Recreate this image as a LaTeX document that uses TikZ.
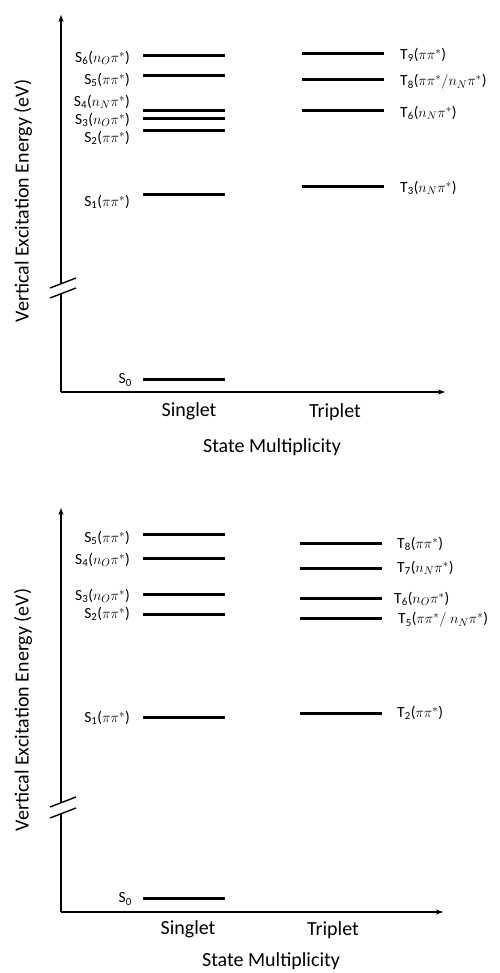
\documentclass[tikz,border=0pt]{standalone}
\usepackage{fontspec}
\setmainfont{Carlito}
\usetikzlibrary{arrows.meta}
\begin{document}
\begin{tikzpicture}[
  x=1pt, y=-1pt,
  axis/.style={line width=1.6pt},
  lvl/.style={line width=3pt},
  cut/.style={line width=1.4pt},
  slab/.style={anchor=east, inner sep=0pt, font=\fontsize{15.5}{18}\selectfont},
  tlab/.style={anchor=west, inner sep=0pt, font=\fontsize{15.5}{18}\selectfont},
  axlab/.style={inner sep=0pt, font=\fontsize{20}{24}\selectfont},
  >={Stealth[length=7pt, width=5pt]}
]
  \useasboundingbox (0,0) rectangle (499,973);

  % upper diagram
  \coordinate (o1) at (61,392);
  \coordinate (b1) at (61,293);
  \coordinate (c1) at (61,283);
  \coordinate (y1) at (61,15);
  \coordinate (x1) at (445,392);
  \draw[axis] (b1) -- (o1);
  \draw[axis,->] (o1) -- (x1);
  \draw[axis,->] (c1) -- (y1);
  \draw[cut] (50,288) -- (76,278);
  \draw[cut] (50,298) -- (76,288);

  \foreach \y in {56,76,111,119,131,195,379}
    \draw[lvl] (143,\y) -- (225,\y);
  \foreach \y in {54,80,111,187}
    \draw[lvl] (302,\y) -- (384,\y);

  \node[slab] (s6) at (130,58)  {S\textsubscript{6}(\(n_O\pi^*\))};
  \node[slab] (s5) at (130,80)  {S\textsubscript{5}(\(\pi\pi^*\))};
  \node[slab] (s4) at (130,102) {S\textsubscript{4}(\(n_N\pi^*\))};
  \node[slab] (s3) at (130,120) {S\textsubscript{3}(\(n_O\pi^*\))};
  \node[slab] (s2) at (130,138) {S\textsubscript{2}(\(\pi\pi^*\))};
  \node[slab] (s1) at (130,202) {S\textsubscript{1}(\(\pi\pi^*\))};
  \node[slab] (s0) at (132,380) {S\textsubscript{0}};
  \node[tlab] (t9) at (400,55)  {T\textsubscript{9}(\(\pi\pi^*\))};
  \node[tlab] (t8) at (400,82)  {T\textsubscript{8}(\(\pi\pi^*/n_N\pi^*\))};
  \node[tlab] (t6) at (400,113) {T\textsubscript{6}(\(n_N\pi^*\))};
  \node[tlab] (t3) at (400,188) {T\textsubscript{3}(\(n_N\pi^*\))};

  \node[axlab] (sing1) at (189,411) {Singlet};
  \node[axlab] (trip1) at (335,412) {Triplet};
  \node[axlab] (mult1) at (272,447) {State Multiplicity};
  \node[axlab, rotate=90] (en1) at (23,201) {Vertical Excitation Energy (eV)};

  % lower diagram
  \coordinate (o2) at (61,912);
  \coordinate (b2) at (61,813);
  \coordinate (c2) at (61,802);
  \coordinate (y2) at (61,508);
  \coordinate (x2) at (443,912);
  \draw[axis] (b2) -- (o2);
  \draw[axis,->] (o2) -- (x2);
  \draw[axis,->] (c2) -- (y2);
  \draw[cut] (50,807) -- (76,797);
  \draw[cut] (50,818) -- (76,808);

  \foreach \y in {534,558,594,614,717,898}
    \draw[lvl] (143,\y) -- (225,\y);
  \foreach \y in {543,568,598,618,713}
    \draw[lvl] (300,\y) -- (382,\y);

  \node[slab] (s5b) at (130,538) {S\textsubscript{5}(\(\pi\pi^*\))};
  \node[slab] (s4b) at (130,560) {S\textsubscript{4}(\(n_O\pi^*\))};
  \node[slab] (s3b) at (130,596) {S\textsubscript{3}(\(n_O\pi^*\))};
  \node[slab] (s2b) at (130,614) {S\textsubscript{2}(\(\pi\pi^*\))};
  \node[slab] (s1b) at (130,718) {S\textsubscript{1}(\(\pi\pi^*\))};
  \node[slab] (s0b) at (132,899) {S\textsubscript{0}};
  \node[tlab] (t8b) at (397,544) {T\textsubscript{8}(\(\pi\pi^*\))};
  \node[tlab] (t7b) at (397,568) {T\textsubscript{7}(\(n_N\pi^*\))};
  \node[tlab] (t6b) at (394,599) {T\textsubscript{6}(\(n_O\pi^*\))};
  \node[tlab] (t5b) at (398,620) {T\textsubscript{5}(\(\pi\pi^*/\ n_N\pi^*\))};
  \node[tlab] (t2b) at (397,713) {T\textsubscript{2}(\(\pi\pi^*\))};

  \node[axlab] (sing2) at (188,929) {Singlet};
  \node[axlab] (trip2) at (333,930) {Triplet};
  \node[axlab] (mult2) at (271,961) {State Multiplicity};
  \node[axlab, rotate=90] (en2) at (23,710) {Vertical Excitation Energy (eV)};
\end{tikzpicture}
\end{document}
